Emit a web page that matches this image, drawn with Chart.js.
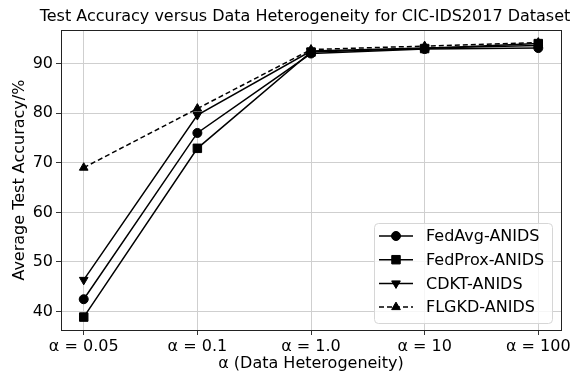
<!DOCTYPE html>
<html>
<head>
<meta charset="utf-8">
<script src="https://cdn.jsdelivr.net/npm/chart.js@4.4.1/dist/chart.umd.min.js"></script>
<style>
  html, body { margin: 0; padding: 0; background: #fff; }
  #wrap { width: 587px; height: 373px; position: relative; }
</style>
</head>
<body>
<div id="wrap"><canvas id="chart"></canvas></div>
<script>
// valores
const alphaLabels = ['α = 0.05', 'α = 0.1', 'α = 1.0', 'α = 10', 'α = 100'];
const fedAvg  = [42.5, 76.0, 92.0, 92.9, 93.1];
const fedProx = [38.9, 72.9, 92.3, 93.0, 94.0];
const cdkt    = [46.4, 79.6, 92.5, 93.1, 93.6];
const flgkd   = [69.0, 80.9, 92.8, 93.5, 94.2];
const yTicks  = [40, 50, 60, 70, 80, 90];

const FONT = 'DejaVu Sans';

function toPoints(values) {
    return values.map((v, i) => ({ x: i, y: v }));
}

function serie(label, values, style, rot, dash, size) {
    return {
        label: label,
        data: toPoints(values),
        borderColor: '#000',
        backgroundColor: '#000',
        borderWidth: 1.5,
        borderDash: dash,
        pointStyle: style,
        pointRotation: rot,
        pointRadius: size,
        pointBackgroundColor: '#000',
        pointBorderColor: '#000',
        pointBorderWidth: 1,
        tension: 0
    };
}

// marco completo del area (como los spines de matplotlib)
const frame = {
    id: 'frame',
    afterDraw(chart) {
        const { ctx, chartArea: a } = chart;
        ctx.save();
        ctx.strokeStyle = '#222';
        ctx.lineWidth = 1;
        ctx.strokeRect(Math.round(a.left) + 0.5, Math.round(a.top) + 0.5,
            Math.round(a.right - a.left), Math.round(a.bottom - a.top));
        ctx.restore();
    }
};

// leyenda dentro del area, abajo a la derecha
const innerLegend = {
    id: 'innerLegend',
    afterDraw(chart) {
        const { ctx, chartArea: a } = chart;
        const w = 178, h = 100;
        const x0 = a.right - 9 - w, y0 = a.bottom - 7 - h;
        ctx.save();
        ctx.beginPath();
        ctx.roundRect(x0 + 0.5, y0 + 0.5, w, h, 4);
        ctx.fillStyle = 'rgba(255,255,255,0.8)';
        ctx.fill();
        ctx.strokeStyle = '#d6d6d6';
        ctx.lineWidth = 1;
        ctx.stroke();
        ctx.font = '16px ' + FONT;
        ctx.textBaseline = 'middle';
        chart.data.datasets.forEach((ds, i) => {
            const y = y0 + 13 + i * 23.7;
            ctx.strokeStyle = '#000';
            ctx.lineWidth = 1.5;
            ctx.setLineDash(ds.borderDash || []);
            ctx.beginPath();
            ctx.moveTo(x0 + 5, y);
            ctx.lineTo(x0 + 39, y);
            ctx.stroke();
            ctx.setLineDash([]);
            ctx.fillStyle = '#000';
            ctx.lineWidth = 1;
            Chart.helpers.drawPoint(ctx, {
                pointStyle: ds.pointStyle,
                rotation: ds.pointRotation,
                radius: ds.pointRadius,
                borderWidth: 1
            }, x0 + 22, y);
            ctx.fillStyle = '#000';
            ctx.fillText(ds.label, x0 + 52, y + 1);
        });
        ctx.restore();
    }
};

const ctx = document.getElementById('chart').getContext('2d');
new Chart(ctx, {
    type: 'line',
    data: {
        datasets: [
            serie('FedAvg-ANIDS', fedAvg, 'circle', 0, [], 4.5),
            serie('FedProx-ANIDS', fedProx, 'rect', 0, [], 6),
            serie('CDKT-ANIDS', cdkt, 'triangle', 180, [], 5),
            serie('FLGKD-ANIDS', flgkd, 'triangle', 0, [5, 3], 5)
        ]
    },
    plugins: [frame, innerLegend],
    options: {
        responsive: true,
        maintainAspectRatio: false,
        animation: false,
        layout: { padding: { left: 23, right: 0, top: 0, bottom: 0 } },
        plugins: {
            legend: { display: false },
            tooltip: { enabled: false },
            title: {
                display: true,
                text: 'Test Accuracy versus Data Heterogeneity for CIC-IDS2017 Dataset',
                color: '#000',
                font: { family: FONT, size: 16, weight: 'normal' },
                padding: { top: 7, bottom: 4 }
            }
        },
        scales: {
            x: {
                type: 'linear',
                min: -0.2,
                max: 4.2,
                afterBuildTicks: (scale) => {
                    scale.ticks = alphaLabels.map((_, i) => ({ value: i }));
                },
                afterFit: (scale) => {
                    scale.height = 43;
                    scale.paddingLeft = 0;
                    scale.paddingRight = 26;
                },
                grid: { color: '#cfcfcf', tickColor: '#333', tickLength: 5 },
                border: { display: false },
                ticks: {
                    color: '#000',
                    font: { family: FONT, size: 16 },
                    maxRotation: 0,
                    padding: 2,
                    callback: (v) => alphaLabels[v]
                },
                title: {
                    display: true,
                    text: 'α (Data Heterogeneity)',
                    color: '#000',
                    font: { family: FONT, size: 16 },
                    padding: { top: 0, bottom: 0 }
                }
            },
            y: {
                min: 36.3,
                max: 96.7,
                afterBuildTicks: (scale) => {
                    scale.ticks = yTicks.map(v => ({ value: v }));
                },
                afterFit: (scale) => { scale.width = 38; },
                grid: { color: '#cfcfcf', tickColor: '#333', tickLength: 5 },
                border: { display: false },
                ticks: {
                    color: '#000',
                    font: { family: FONT, size: 16 },
                    padding: 3
                },
                title: {
                    display: true,
                    text: 'Average Test Accuracy/%',
                    color: '#000',
                    font: { family: FONT, size: 16 },
                    padding: { top: -12.6, bottom: 0 }
                }
            }
        }
    }
});
</script>
</body>
</html>
